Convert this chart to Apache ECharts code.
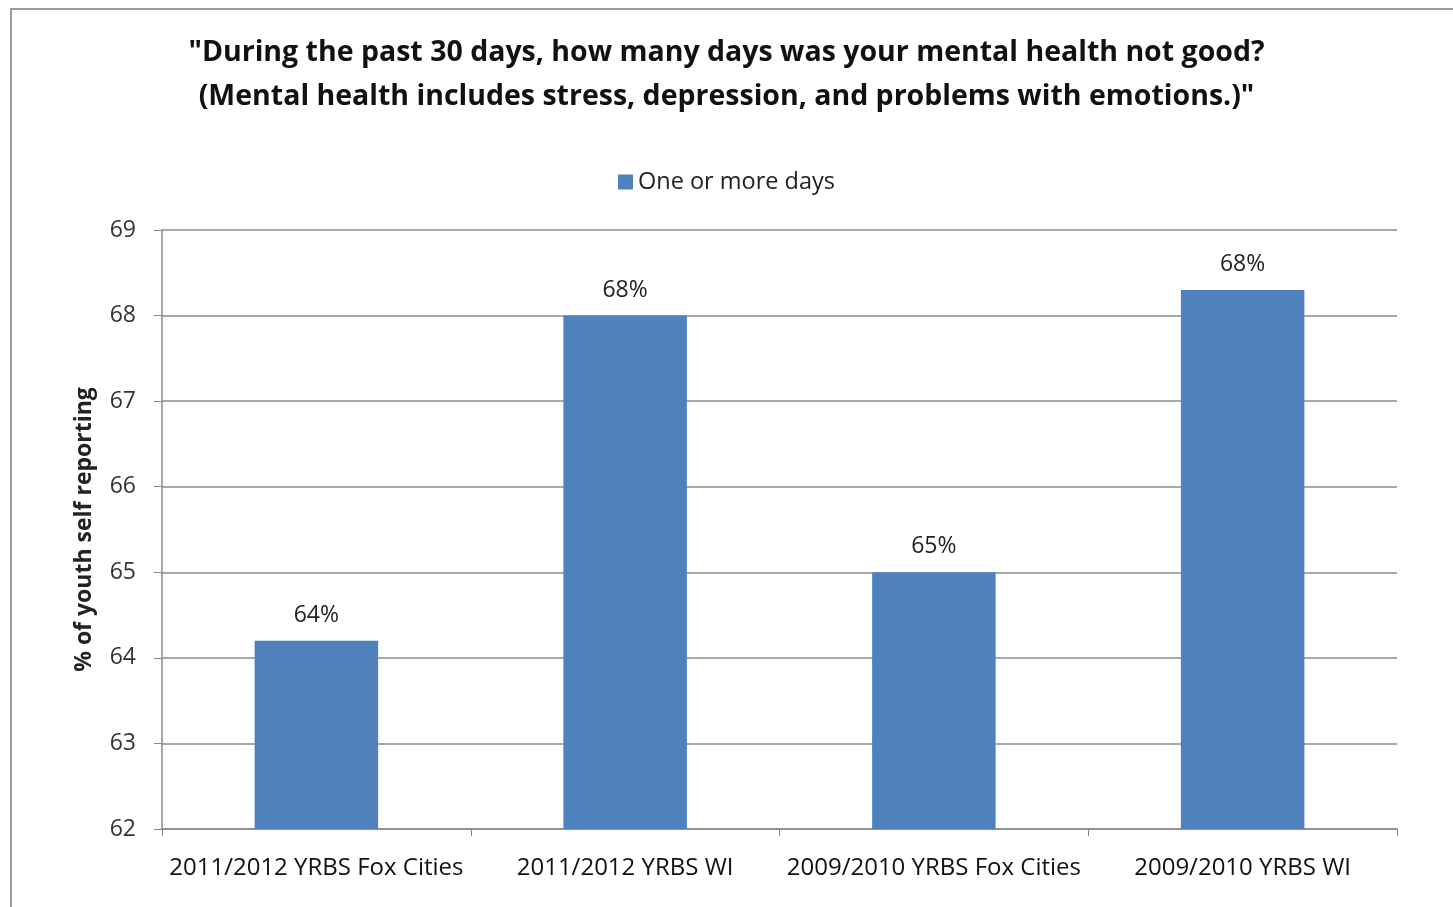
<!DOCTYPE html>
<html><head><meta charset="utf-8">
<script src="https://cdn.jsdelivr.net/npm/echarts@6/dist/echarts.min.js"></script>
<style>html,body{margin:0;padding:0;background:#fff}#c{width:1453px;height:907px}
#frame{position:absolute;left:10px;top:8px;width:1460px;height:920px;border:2px solid #9a9a9a;box-sizing:border-box;pointer-events:none}</style>
</head><body><div id="c"></div><div id="frame"></div>
<script>
const categories = ["2011/2012 YRBS Fox Cities","2011/2012 YRBS WI","2009/2010 YRBS Fox Cities","2009/2010 YRBS WI"];
const values = [64.2, 68.0, 65.0, 68.3];
const labels = ["64%","68%","65%","68%"];
const seriesName = "One or more days";
const titleText = "\"During the past 30 days, how many days was your mental health not good?\n(Mental health includes stress, depression, and problems with emotions.)\"";
const yName = "% of youth self reporting";

const chart = echarts.init(document.getElementById('c'));
chart.setOption({
  animation:false,
  textStyle:{fontFamily:'Open Sans'},
  title:{text:titleText,left:'center',top:26,textStyle:{fontFamily:'Open Sans',fontWeight:'bold',fontSize:28.5,color:'#111',lineHeight:44}},
  legend:{data:[seriesName],top:165,left:'center',itemWidth:15,itemHeight:15,itemGap:7,icon:'rect',
    textStyle:{fontSize:23.5,color:'#222',fontFamily:'Open Sans'}},
  grid:{left:162,right:56,top:230,bottom:78,containLabel:false},
  xAxis:{type:'category',data:categories,
    axisLine:{lineStyle:{color:'#888',width:1.5}},
    axisTick:{show:true,length:7,lineStyle:{color:'#888'}},
    axisLabel:{fontSize:24,color:'#111',margin:27,interval:0}},
  yAxis:{type:'value',min:62,max:69,interval:1,name:yName,nameLocation:'middle',nameGap:66,
    nameTextStyle:{fontSize:23,fontWeight:'bold',color:'#222'},
    axisLine:{show:true,lineStyle:{color:'#888',width:1.5}},
    axisTick:{show:true,length:8,inside:false,lineStyle:{color:'#888'}},
    axisLabel:{fontSize:23,color:'#333',margin:26},
    splitLine:{lineStyle:{color:'#8c8c8c',width:1.5}}},
  series:[{name:seriesName,type:'bar',data:values,barWidth:'40%',
    itemStyle:{color:'#4f81bd'},
    label:{show:true,position:'top',distance:14,fontSize:23,color:'#222',
      formatter:p=>labels[p.dataIndex]}}]
});
</script></body></html>
